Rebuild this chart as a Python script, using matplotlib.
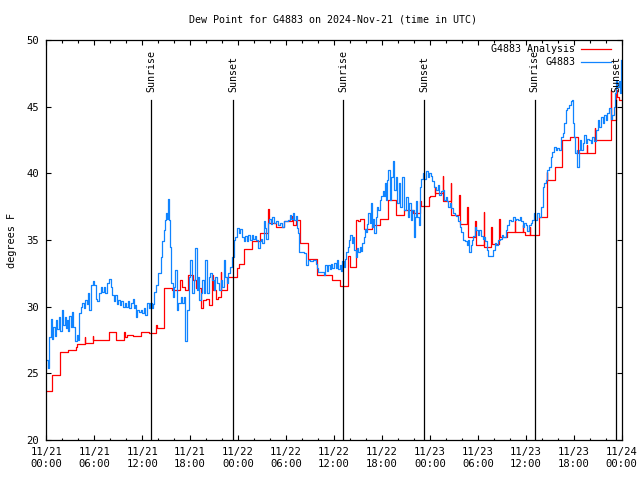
import matplotlib
matplotlib.use('Agg')
import matplotlib.pyplot as plt
import matplotlib.dates as mdates
import matplotlib.transforms as mtrans
import pandas as pd

# hours after 2024-11-21 00:00 UTC, dew point in F
obs_hours = [
    0.0, 0.2, 0.35, 0.4, 0.6, 0.75, 0.9, 1.05, 1.25, 1.4, 1.6, 1.75, 1.95, 2.1, 2.3, 2.45, 2.6, 2.75, 2.9, 3.1,
    3.25, 3.4, 3.55, 3.65, 3.8, 3.95, 4.1, 4.3, 4.5, 4.7, 4.85, 5.05, 5.2, 5.4, 5.6, 5.8, 6.0, 6.2, 6.4, 6.6,
    6.8, 7.0, 7.2, 7.4, 7.6, 7.9, 8.05, 8.25, 8.45, 8.6, 8.8, 9.0, 9.2, 9.4, 9.6, 9.8, 10.0, 10.2, 10.4, 10.6,
    10.8, 10.95, 11.1, 11.25, 11.4, 11.6, 11.8, 12.0, 12.2, 12.4, 12.6, 12.8, 13.0, 13.2, 13.4, 13.5, 13.75, 14.0, 14.3, 14.5,
    14.7, 14.85, 15.0, 15.15, 15.25, 15.35, 15.5, 15.65, 15.8, 16.0, 16.15, 16.3, 16.5, 16.8, 17.0, 17.2, 17.3, 17.4, 17.6, 17.8,
    18.0, 18.2, 18.45, 18.65, 18.8, 19.0, 19.15, 19.3, 19.5, 19.7, 19.9, 20.05, 20.3, 20.5, 20.75, 20.95, 21.15, 21.35, 21.6, 21.8,
    22.0, 22.2, 22.4, 22.6, 22.75, 23.0, 23.25, 23.45, 23.65, 23.9, 24.1, 24.3, 24.5, 24.7, 24.9, 25.1, 25.3, 25.5, 25.7, 25.9,
    26.1, 26.3, 26.5, 26.7, 26.9, 27.05, 27.2, 27.35, 27.5, 27.7, 27.9, 28.1, 28.3, 28.5, 28.75, 29.0, 29.25, 29.5, 29.75, 30.0,
    30.3, 30.45, 30.65, 30.85, 31.0, 31.2, 31.35, 31.5, 31.65, 32.0, 32.3, 32.5, 32.7, 33.0, 33.4, 33.7, 33.85, 34.0, 34.4, 34.7,
    34.9, 35.1, 35.3, 35.45, 35.6, 35.8, 36.0, 36.2, 36.4, 36.55, 36.7, 36.85, 37.0, 37.2, 37.35, 37.55, 37.75, 37.9, 38.05, 38.2,
    38.35, 38.5, 38.7, 38.85, 39.0, 39.2, 39.4, 39.55, 39.7, 39.85, 40.0, 40.15, 40.3, 40.45, 40.6, 40.7, 40.9, 41.0, 41.2, 41.4,
    41.55, 41.75, 41.9, 42.1, 42.25, 42.35, 42.45, 42.65, 42.8, 42.95, 43.15, 43.35, 43.45, 43.7, 43.9, 44.1, 44.3, 44.5, 44.75, 44.95,
    45.2, 45.4, 45.6, 45.8, 45.95, 46.1, 46.2, 46.4, 46.6, 46.75, 46.9, 47.1, 47.3, 47.5, 47.7, 47.9, 48.1, 48.3, 48.5, 48.75,
    49.0, 49.2, 49.4, 49.6, 49.8, 50.0, 50.1, 50.3, 50.5, 50.7, 50.9, 51.1, 51.3, 51.5, 51.75, 51.95, 52.15, 52.4, 52.6, 52.8,
    52.9, 53.1, 53.3, 53.45, 53.6, 53.8, 54.0, 54.2, 54.4, 54.6, 54.75, 54.9, 55.1, 55.2, 55.3, 55.75, 55.9, 56.1, 56.3, 56.5,
    56.75, 57.0, 57.2, 57.5, 57.7, 57.9, 58.1, 58.4, 58.6, 58.8, 59.0, 59.25, 59.45, 59.6, 59.75, 60.0, 60.2, 60.4, 60.6, 60.8,
    61.0, 61.2, 61.45, 61.7, 61.9, 62.1, 62.3, 62.5, 62.7, 62.9, 63.1, 63.3, 63.55, 63.75, 63.95, 64.2, 64.4, 64.6, 64.8, 65.0,
    65.2, 65.4, 65.6, 65.75, 65.85, 66.05, 66.15, 66.35, 66.45, 66.6, 66.75, 66.9, 67.1, 67.3, 67.5, 67.7, 67.9, 68.1, 68.3, 68.5,
    68.75, 69.0, 69.15, 69.4, 69.6, 69.8, 70.0, 70.2, 70.4, 70.6, 70.8, 71.0, 71.15, 71.25, 71.45, 71.65, 71.8, 71.9,
]
obs_dewpt = [
    26.0, 25.4, 25.6, 27.75, 29.1, 27.6, 28.5, 27.8, 29.0, 28.3, 29.2, 28.2, 29.75, 28.6, 29.2, 28.4, 29.0, 28.2, 29.3, 28.5,
    29.6, 28.5, 28.0, 27.4, 27.9, 27.5, 29.5, 30.0, 30.3, 29.9, 30.5, 30.2, 31.0, 29.75, 31.6, 31.9, 31.6, 30.6, 30.4, 31.0,
    31.5, 31.1, 31.5, 31.0, 31.75, 32.1, 31.5, 30.9, 30.4, 30.9, 30.2, 30.5, 30.1, 30.4, 30.0, 30.3, 30.0, 30.4, 29.9, 30.3,
    30.6, 29.9, 30.1, 29.25, 29.75, 29.6, 29.75, 29.5, 29.9, 29.4, 30.25, 29.9, 30.3, 29.9, 30.2, 31.1, 31.6, 32.5, 33.75, 34.9,
    35.75, 36.5, 37.0, 36.6, 38.1, 36.5, 34.5, 31.75, 30.75, 31.5, 32.75, 29.75, 30.25, 30.75, 30.25, 30.75, 28.0, 27.4, 29.75, 32.25,
    33.5, 31.0, 32.0, 34.4, 31.25, 32.25, 30.5, 31.0, 32.0, 31.0, 33.5, 31.0, 32.25, 32.5, 32.0, 31.25, 32.25, 31.75, 31.25, 32.0,
    31.5, 33.5, 32.25, 31.8, 32.5, 33.0, 33.75, 35.0, 35.25, 35.9, 35.5, 35.8, 35.2, 34.9, 35.3, 34.9, 35.4, 35.0, 35.4, 35.1,
    35.3, 35.0, 34.4, 34.9, 35.1, 34.8, 36.4, 35.9, 35.1, 36.25, 36.6, 36.2, 36.75, 36.25, 36.4, 36.1, 36.3, 36.0, 36.4, 36.4,
    36.5, 36.9, 36.6, 37.0, 36.5, 36.8, 35.9, 35.5, 34.1, 34.1, 34.0, 33.1, 33.5, 33.4, 33.5, 33.2, 32.9, 32.6, 32.6, 32.4,
    33.1, 32.7, 33.1, 32.8, 33.2, 32.9, 33.3, 32.9, 33.5, 32.8, 33.1, 32.7, 33.4, 33.0, 33.6, 34.1, 34.5, 35.0, 35.4, 34.8,
    35.2, 34.25, 33.75, 34.4, 34.1, 34.5, 34.2, 34.75, 35.25, 35.8, 35.6, 36.2, 37.0, 36.25, 37.75, 36.0, 36.6, 35.5, 36.75, 37.5,
    37.25, 38.0, 38.3, 38.7, 38.3, 39.25, 38.0, 39.5, 40.25, 38.0, 39.75, 40.9, 38.75, 39.75, 37.75, 39.25, 37.5, 39.75, 37.25, 38.25,
    36.75, 37.75, 36.5, 37.25, 35.25, 36.75, 37.9, 36.75, 36.1, 39.0, 39.6, 40.0, 39.6, 40.2, 39.7, 40.0, 39.8, 39.4, 39.0, 38.75,
    39.1, 38.4, 38.7, 38.75, 38.0, 38.2, 37.9, 37.5, 37.75, 37.4, 37.0, 36.9, 36.8, 36.4, 36.0, 35.6, 35.0, 34.9, 34.6, 35.0,
    34.1, 34.6, 35.0, 35.3, 36.0, 35.75, 35.4, 35.75, 35.3, 35.1, 35.25, 34.9, 34.6, 34.25, 33.8, 33.8, 34.25, 34.75, 34.6, 35.0,
    35.1, 35.4, 35.25, 35.75, 36.1, 36.5, 36.4, 36.75, 36.5, 36.6, 36.5, 36.75, 36.4, 36.0, 36.25, 36.1, 35.7, 36.1, 36.25, 36.5,
    37.0, 36.5, 37.0, 36.75, 37.5, 39.0, 39.25, 39.5, 40.25, 40.5, 41.25, 41.6, 42.0, 41.75, 41.9, 41.75, 42.75, 43.0, 43.75, 44.75,
    44.9, 45.1, 45.4, 45.5, 43.75, 42.75, 41.5, 41.75, 40.5, 41.75, 42.5, 41.75, 42.25, 42.9, 42.25, 42.6, 42.5, 42.25, 42.75, 42.4,
    43.25, 44.0, 43.5, 44.25, 43.75, 44.4, 44.0, 44.5, 44.9, 44.1, 44.4, 45.0, 46.0, 47.0, 46.5, 46.9, 46.0, 48.5,
]

ana_hours = [
    0.0, 0.7, 1.7, 2.7, 3.7, 3.85, 4.8, 4.9, 5.8, 5.9, 7.8, 8.75, 9.7, 9.8, 10.1, 10.8, 11.9, 12.8, 13.7, 13.85,
    14.75, 15.75, 16.75, 17.0, 17.3, 17.75, 18.3, 18.7, 19.3, 19.6, 20.0, 20.3, 20.75, 20.85, 21.2, 21.5, 21.8, 21.9, 22.6, 23.9,
    24.1, 24.75, 25.75, 26.75, 27.75, 27.82, 28.75, 29.75, 30.8, 30.9, 31.25, 31.75, 32.8, 33.85, 35.8, 36.75, 37.75, 38.0, 38.7, 39.0,
    39.2, 39.75, 40.8, 41.75, 42.75, 43.8, 44.8, 45.85, 46.8, 46.9, 47.85, 48.0, 48.6, 48.7, 49.6, 49.7, 50.6, 50.68, 51.65, 51.72,
    52.65, 52.72, 53.7, 53.78, 54.75, 54.82, 55.7, 55.78, 56.65, 56.72, 57.65, 58.6, 58.68, 59.6, 59.68, 59.9, 60.5, 60.58, 61.6, 62.6,
    62.7, 63.6, 64.5, 65.55, 66.55, 67.6, 67.7, 68.6, 68.68, 70.6, 70.68, 71.3, 71.4, 71.65, 72.0,
]
ana_dewpt = [
    23.7, 24.9, 26.6, 26.75, 27.0, 27.2, 27.7, 27.25, 27.8, 27.5, 28.1, 27.5, 28.1, 27.75, 27.9, 27.8, 28.1, 28.0, 28.6, 28.4,
    31.4, 31.25, 32.0, 31.5, 31.25, 32.4, 32.0, 31.4, 29.9, 30.5, 30.6, 30.1, 32.4, 31.25, 30.6, 30.75, 32.6, 31.25, 32.25, 32.9,
    33.2, 34.3, 34.9, 35.5, 37.3, 36.25, 36.0, 36.4, 36.8, 36.1, 36.5, 34.75, 33.55, 32.4, 32.0, 31.55, 33.8, 33.0, 36.5, 36.4,
    36.6, 35.8, 36.1, 36.6, 38.0, 36.9, 37.25, 37.05, 37.9, 37.55, 38.25, 38.3, 39.0, 38.5, 39.8, 37.9, 39.25, 36.9, 38.4, 36.2,
    37.45, 35.2, 36.4, 34.6, 37.1, 34.5, 35.95, 34.7, 36.6, 35.25, 35.6, 36.4, 35.6, 36.1, 35.6, 35.4, 36.0, 35.4, 36.75, 40.1,
    39.5, 40.5, 42.5, 42.75, 41.5, 42.1, 41.5, 43.4, 42.5, 46.25, 44.0, 46.25, 45.75, 45.5, 45.5,
]

sun_times = ['2024-11-21 13:08', '2024-11-21 23:22', '2024-11-22 13:08',
             '2024-11-22 23:15', '2024-11-23 13:08', '2024-11-23 23:18']
sun_labels = ['Sunrise', 'Sunset', 'Sunrise', 'Sunset', 'Sunrise', 'Sunset']

start = pd.Timestamp('2024-11-21 00:00')
obs_t = start + pd.to_timedelta(obs_hours, unit='h')
ana_t = start + pd.to_timedelta(ana_hours, unit='h')

plt.rcParams['font.family'] = 'DejaVu Sans Mono'
plt.rcParams['font.size'] = 7.2

fig = plt.figure(figsize=(6.4, 4.8), dpi=100)
ax = fig.add_axes([46.3 / 640, 40 / 480, 575.4 / 640, 400 / 480])

ax.plot(ana_t, ana_dewpt, color='#ff0000', lw=0.9, drawstyle='steps-post')
ax.plot(obs_t, obs_dewpt, color='#1084ff', lw=0.9, drawstyle='steps-post')

blend = mtrans.blended_transform_factory(ax.transData, ax.transAxes)
for t, lab in zip(sun_times, sun_labels):
    x = mdates.date2num(pd.Timestamp(t))
    ax.plot([x, x], [0, 0.85], color='black', lw=0.9, transform=blend)
    ax.text(x, 0.87, lab, rotation=90, ha='center', va='bottom', transform=blend)

# legend drawn by hand, text right aligned like gnuplot
leg = [('G4883 Analysis', '#ff0000', 0.977), ('G4883', '#1084ff', 0.944)]
for lab, col, yy in leg:
    ax.text(0.919, yy, lab, ha='right', va='center', transform=ax.transAxes, fontsize=7.2)
    ax.plot([0.929, 0.981], [yy, yy], color=col, lw=0.9, transform=ax.transAxes)

ax.set_xlim(start, start + pd.Timedelta(hours=72))
ax.set_ylim(20, 50)
ax.set_yticks(range(20, 51, 5))
ax.xaxis.set_major_locator(mdates.HourLocator(byhour=[0, 6, 12, 18]))
ax.xaxis.set_minor_locator(mdates.HourLocator(interval=2))
ax.xaxis.set_major_formatter(mdates.DateFormatter('%m/%d\n%H:%M'))
ax.tick_params(which='both', direction='in', top=True, right=True, width=0.8, labelsize=7.6)
ax.tick_params(which='major', length=3.4, pad=5)
ax.tick_params(which='minor', length=1.8)
for s in ax.spines.values():
    s.set_linewidth(0.9)

ax.set_ylabel('degrees F', fontsize=7.4, labelpad=7)
fig.text(333 / 640, 1 - 19 / 480, 'Dew Point for G4883 on 2024-Nov-21 (time in UTC)',
         ha='center', va='center', fontsize=7.2)

plt.savefig('out.png')
